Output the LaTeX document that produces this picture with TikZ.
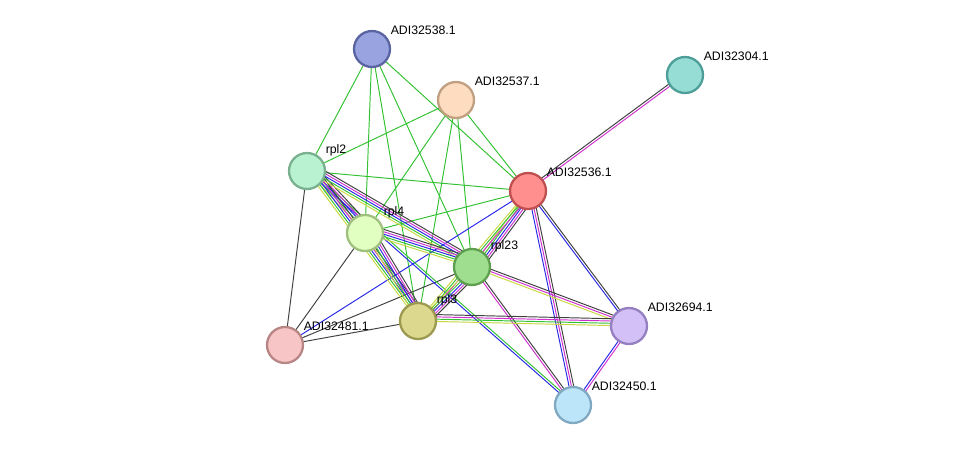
\documentclass[tikz,border=0pt]{standalone}
\usepackage{fontspec}
\setmainfont{Liberation Sans}
\usetikzlibrary{calc}

\definecolor{tmgreen}{HTML}{33C133}
\definecolor{exyellow}{HTML}{C8D840}
\definecolor{dbblue}{HTML}{2828E8}
\definecolor{comag}{HTML}{D030D0}
\definecolor{hoblack}{HTML}{404040}

\newcommand{\stredge}[3]{%
  \foreach \col [count=\i] in {#3} {
    \pgfmathsetmacro{\off}{(\i-1)*1.3}
    \draw [link=\col] ($(#1.center)!\off pt!90:(#2.center)$) -- ($(#2.center)!\off pt!-90:(#1.center)$);
  }%
}

\begin{document}
\begin{tikzpicture}[
                x=0.02cm, y=-0.02cm,
                link/.style={color=#1, line width=0.55pt},
                prot/.style={circle, minimum size=0.72cm, inner sep=0pt, line width=1.3pt},
                lbl/.style={font=\fontsize{7}{8.5}\selectfont, black, inner sep=0.5pt}
            ]
                \useasboundingbox (0,0) rectangle (975,451);

                \coordinate (p538) at (372,49);
                \coordinate (p537) at (456,100);
                \coordinate (p304) at (685,75);
                \coordinate (prpl2) at (307,171);
                \coordinate (p536) at (528,191);
                \coordinate (prpl4) at (365,233);
                \coordinate (prpl23) at (472,267);
                \coordinate (prpl3) at (418,321);
                \coordinate (p481) at (285,345);
                \coordinate (p694) at (629,326);
                \coordinate (p450) at (573,405);

                % edges
                \foreach \a/\b in {p538/prpl2,p538/prpl4,p538/prpl23,p538/p536,p538/prpl3,
                                   p537/prpl2,p537/prpl4,p537/prpl23,p537/prpl3,p537/p536,
                                   prpl2/p536,prpl4/p536}
                    \draw [link=tmgreen] (\a) -- (\b);
                \foreach \a/\b in {prpl2/p481,prpl4/p481,prpl3/p481,prpl23/p481}
                    \draw [link=hoblack] (\a) -- (\b);
                \draw [link=dbblue] (p536) -- (p481);

                \stredge{p536}{p304}{comag,hoblack}
                \stredge{prpl2}{p450}{dbblue,tmgreen}
                \stredge{p536}{p694}{dbblue,hoblack}
                \stredge{p536}{p450}{dbblue,comag,hoblack}
                \stredge{p694}{p450}{dbblue,comag}
                \stredge{prpl23}{p450}{comag,hoblack}
                \stredge{prpl23}{p694}{exyellow,comag,hoblack}
                \stredge{prpl3}{p694}{exyellow,tmgreen,comag,hoblack}
                \stredge{p536}{prpl23}{exyellow,tmgreen,dbblue,comag,hoblack}
                \stredge{p536}{prpl3}{exyellow,tmgreen,comag}
                \stredge{prpl2}{prpl4}{exyellow,tmgreen,dbblue,comag,hoblack}
                \stredge{prpl2}{prpl3}{exyellow,tmgreen,dbblue,comag,hoblack}
                \stredge{prpl2}{prpl23}{exyellow,tmgreen,dbblue,comag,hoblack}
                \stredge{prpl4}{prpl23}{exyellow,tmgreen,dbblue,comag,hoblack}
                \stredge{prpl4}{prpl3}{exyellow,tmgreen,dbblue,comag,hoblack}
                \stredge{prpl23}{prpl3}{exyellow,tmgreen,dbblue,comag,hoblack}

                % proteins
                \node [prot, fill={rgb,255:red,153;green,163;blue,224}, draw={rgb,255:red,90;green,100;blue,160}] (n538) at (p538) {};
                \node [prot, fill={rgb,255:red,253;green,220;blue,191}, draw={rgb,255:red,192;green,160;blue,128}] (n537) at (p537) {};
                \node [prot, fill={rgb,255:red,150;green,221;blue,214}, draw={rgb,255:red,77;green,158;blue,152}] (n304) at (p304) {};
                \node [prot, fill={rgb,255:red,184;green,242;blue,208}, draw={rgb,255:red,120;green,176;blue,144}] (nrpl2) at (prpl2) {};
                \node [prot, fill={rgb,255:red,255;green,143;blue,143}, draw={rgb,255:red,192;green,80;blue,80}] (n536) at (p536) {};
                \node [prot, fill={rgb,255:red,224;green,255;blue,192}, draw={rgb,255:red,160;green,192;blue,128}] (nrpl4) at (prpl4) {};
                \node [prot, fill={rgb,255:red,158;green,222;blue,142}, draw={rgb,255:red,94;green,160;blue,80}] (nrpl23) at (prpl23) {};
                \node [prot, fill={rgb,255:red,220;green,217;blue,142}, draw={rgb,255:red,156;green,154;blue,80}] (nrpl3) at (prpl3) {};
                \node [prot, fill={rgb,255:red,247;green,197;blue,197}, draw={rgb,255:red,184;green,133;blue,133}] (n481) at (p481) {};
                \node [prot, fill={rgb,255:red,211;green,192;blue,247}, draw={rgb,255:red,148;green,128;blue,192}] (n694) at (p694) {};
                \node [prot, fill={rgb,255:red,189;green,229;blue,249}, draw={rgb,255:red,128;green,168;blue,192}] (n450) at (p450) {};

                % labels
                \node [lbl, anchor=south west] at ($(n538.north east)+(4,0)$) {ADI32538.1};
                \node [lbl, anchor=south west] at ($(n537.north east)+(4,0)$) {ADI32537.1};
                \node [lbl, anchor=south west] at ($(n304.north east)+(4,0)$) {ADI32304.1};
                \node [lbl, anchor=south west] at ($(nrpl2.north east)+(4,0)$) {rpl2};
                \node [lbl, anchor=south west] at ($(n536.north east)+(4,0)$) {ADI32536.1};
                \node [lbl, anchor=south west] at ($(nrpl4.north east)+(4,0)$) {rpl4};
                \node [lbl, anchor=south west] at ($(nrpl23.north east)+(4,0)$) {rpl23};
                \node [lbl, anchor=south west] at ($(nrpl3.north east)+(4,0)$) {rpl3};
                \node [lbl, anchor=south west] at ($(n481.north east)+(4,0)$) {ADI32481.1};
                \node [lbl, anchor=south west] at ($(n694.north east)+(4,0)$) {ADI32694.1};
                \node [lbl, anchor=south west] at ($(n450.north east)+(4,0)$) {ADI32450.1};
            \end{tikzpicture}
\end{document}
